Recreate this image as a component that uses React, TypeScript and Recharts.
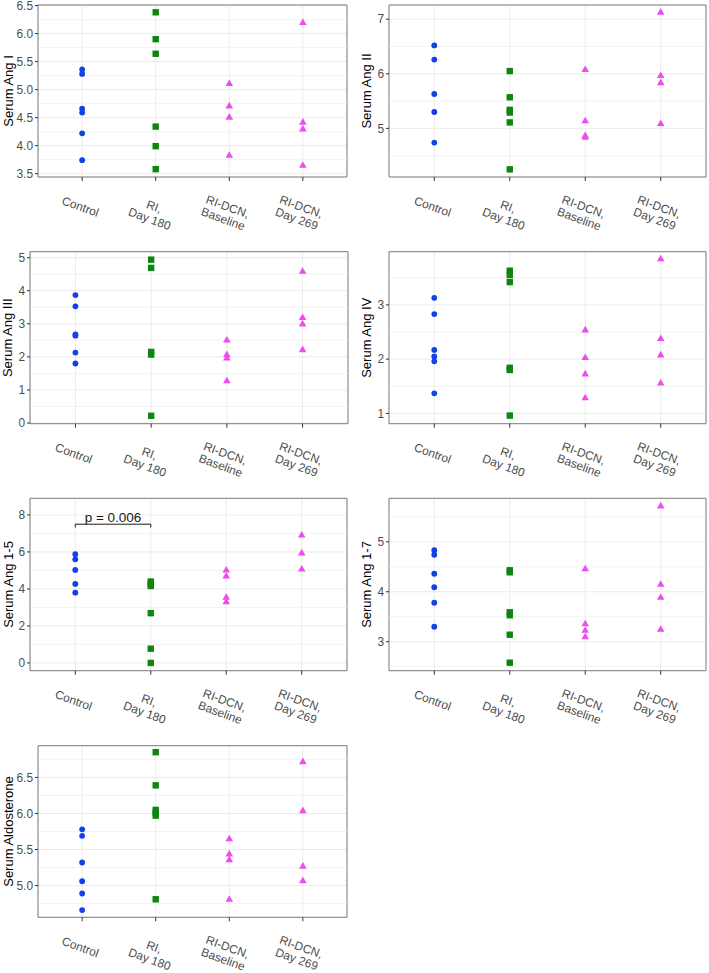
import {
  ScatterChart,
  Scatter,
  XAxis,
  YAxis,
  CartesianGrid,
  ReferenceLine,
  ReferenceArea,
} from "recharts";

// group order on the x axis
const groups = ["Control", "RI, Day 180", "RI-DCN, Baseline", "RI-DCN, Day 269"];
const groupLines = [["Control"], ["RI,", "Day 180"], ["RI-DCN,", "Baseline"], ["RI-DCN,", "Day 269"]];

// values per group: [control, RI day 180, RI-DCN baseline, RI-DCN day 269]
const angI = [
  [5.36, 5.28, 4.66, 4.59, 4.22, 3.74],
  [6.38, 5.9, 5.64, 4.34, 3.99, 3.58],
  [5.11, 4.71, 4.51, 3.83],
  [6.2, 4.42, 4.3, 3.65],
];
const angII = [
  [6.52, 6.26, 5.63, 5.3, 4.74],
  [6.05, 5.57, 5.34, 5.29, 5.11, 4.25],
  [6.08, 5.14, 4.87, 4.84],
  [7.13, 5.97, 5.84, 5.09],
];
const angIII = [
  [3.87, 3.53, 2.68, 2.64, 2.13, 1.8],
  [4.94, 4.69, 2.15, 2.07, 0.22],
  [2.51, 2.07, 1.97, 1.28],
  [4.59, 3.19, 3.0, 2.22],
];
const angIV = [
  [3.13, 2.83, 2.17, 2.05, 1.96, 1.37],
  [3.63, 3.55, 3.42, 1.84, 1.8, 0.96],
  [2.54, 2.03, 1.73, 1.29],
  [3.85, 2.38, 2.08, 1.56],
];
const ang15 = [
  [5.88, 5.6, 5.03, 4.27, 3.8],
  [4.4, 4.27, 4.16, 2.69, 0.77, 0.0],
  [5.03, 4.7, 3.55, 3.31],
  [6.92, 5.95, 5.08],
];
const ang17 = [
  [4.83, 4.74, 4.36, 4.09, 3.78, 3.3],
  [4.43, 4.39, 3.59, 3.53, 3.14, 2.58],
  [4.46, 3.36, 3.23, 3.1],
  [5.72, 4.15, 3.89, 3.25],
];
const aldo = [
  [5.78, 5.69, 5.32, 5.06, 4.89, 4.66],
  [6.85, 6.39, 6.05, 6.01, 5.97, 4.81],
  [5.65, 5.44, 5.36, 4.81],
  [6.72, 6.04, 5.27, 5.07],
];

// y ticks (major) and minor grid values
const angITicks = [3.5, 4, 4.5, 5, 5.5, 6, 6.5];
const angIMinor = [3.75, 4.25, 4.75, 5.25, 5.75, 6.25];
const angIITicks = [5, 6, 7];
const angIIMinor = [4.5, 5.5, 6.5];
const angIIITicks = [0, 1, 2, 3, 4, 5];
const angIIIMinor = [0.5, 1.5, 2.5, 3.5, 4.5];
const angIVTicks = [1, 2, 3];
const angIVMinor = [1.5, 2.5, 3.5];
const ang15Ticks = [0, 2, 4, 6, 8];
const ang15Minor = [1, 3, 5, 7];
const ang17Ticks = [3, 4, 5];
const ang17Minor = [2.5, 3.5, 4.5, 5.5];
const aldoTicks = [5, 5.5, 6, 6.5];
const aldoMinor = [4.75, 5.25, 5.75, 6.25, 6.75];

// Control vs RI comparison on the Ang 1-5 panel
const ang15Bracket = { from: 1, to: 2, y: 7.5, tip: 7.32, label: "p = 0.006" };

const COLORS = ["#1440E6", "#0E850E", "#EE4CEE", "#EE4CEE"];
const GRID = "#EBEBEB";
const MINOR = "#F0F0F0";
const BORDER = "#7F7F7F";
const TICK_TEXT = "#4D4D4D";
const X_DOMAIN: [number, number] = [0.4, 4.6];

const CircleMark = (p: any) => <circle cx={p.cx} cy={p.cy} r={2.9} fill={COLORS[0]} />;
const SquareMark = (p: any) => (
  <rect x={p.cx - 3.2} y={p.cy - 3.2} width={6.4} height={6.4} fill={COLORS[1]} />
);
const TriangleMark = (p: any) => (
  <polygon
    points={`${p.cx},${p.cy - 4} ${p.cx - 3.8},${p.cy + 2.6} ${p.cx + 3.8},${p.cy + 2.6}`}
    fill={COLORS[2]}
  />
);
const SHAPES = [CircleMark, SquareMark, TriangleMark, TriangleMark];

function CategoryTick({ x, y, payload }: any) {
  const lines = groupLines[Math.round(payload.value) - 1] || [];
  return (
    <g transform={`translate(${x},${y}) rotate(20)`}>
      {lines.map((line, i) => (
        <text key={i} x={0} y={9 + i * 13} textAnchor="middle" fontSize={11.9} fill={TICK_TEXT}>
          {line}
        </text>
      ))}
    </g>
  );
}

type Panel = {
  title: string;
  values: number[][];
  ticks: number[];
  minor: number[];
  domain: [number, number];
  decimals: number;
  bracket?: typeof ang15Bracket;
  // layout
  colX: number;
  colW: number;
  rowTop: number;
  plot: [number, number, number, number]; // left, top, right, bottom
  titleX: number;
};

const panels: Panel[] = [
  { title: "Serum Ang I", values: angI, ticks: angITicks, minor: angIMinor, domain: [3.44, 6.51], decimals: 1,
    colX: 0, colW: 354, rowTop: 0, plot: [38, 5, 347, 177], titleX: 12.5 },
  { title: "Serum Ang II", values: angII, ticks: angIITicks, minor: angIIMinor, domain: [4.11, 7.26], decimals: 0,
    colX: 354, colW: 355, rowTop: 0, plot: [389, 5, 706, 177], titleX: 17 },
  { title: "Serum Ang III", values: angIII, ticks: angIIITicks, minor: angIIIMinor, domain: [-0.02, 5.18], decimals: 0,
    colX: 0, colW: 354, rowTop: 246, plot: [30, 251.7, 348, 423.7], titleX: 12.5 },
  { title: "Serum Ang IV", values: angIV, ticks: angIVTicks, minor: angIVMinor, domain: [0.81, 3.98], decimals: 0,
    colX: 354, colW: 355, rowTop: 246, plot: [389, 251.7, 706, 423.7], titleX: 17 },
  { title: "Serum Ang 1-5", values: ang15, ticks: ang15Ticks, minor: ang15Minor, domain: [-0.42, 8.9], decimals: 0,
    bracket: ang15Bracket,
    colX: 0, colW: 354, rowTop: 492, plot: [30, 498.3, 347, 670.7], titleX: 12.5 },
  { title: "Serum Ang 1-7", values: ang17, ticks: ang17Ticks, minor: ang17Minor, domain: [2.42, 5.87], decimals: 0,
    colX: 354, colW: 355, rowTop: 492, plot: [389, 498.3, 706, 670.7], titleX: 17 },
  { title: "Serum Aldosterone", values: aldo, ticks: aldoTicks, minor: aldoMinor, domain: [4.56, 6.94], decimals: 1,
    colX: 0, colW: 354, rowTop: 738, plot: [38, 745.7, 347, 917.3], titleX: 12.5 },
];

const CHART_H = 240;
const X_AXIS_H = 55;

function PanelChart({ panel }: { panel: Panel }) {
  const [pl, pt, pr, pb] = panel.plot;
  const margin = {
    top: pt - panel.rowTop,
    right: panel.colX + panel.colW - pr,
    bottom: panel.rowTop + CHART_H - pb - X_AXIS_H,
    left: 0,
  };
  const b = panel.bracket;
  return (
    <div style={{ position: "absolute", left: panel.colX, top: panel.rowTop }}>
      <ScatterChart width={panel.colW} height={CHART_H} margin={margin}>
        <CartesianGrid stroke={GRID} strokeWidth={1} />
        {panel.minor.map((v) => (
          <ReferenceLine key={v} y={v} stroke={MINOR} strokeWidth={0.8} />
        ))}
        <XAxis
          type="number"
          dataKey="x"
          domain={X_DOMAIN}
          ticks={[1, 2, 3, 4]}
          allowDataOverflow
          interval={0}
          height={X_AXIS_H}
          axisLine={false}
          tickSize={4}
          tickMargin={21}
          tickLine={{ stroke: "#333333" }}
          tick={<CategoryTick />}
        />
        <YAxis
          type="number"
          dataKey="y"
          domain={panel.domain}
          ticks={panel.ticks}
          allowDataOverflow
          interval={0}
          width={pl - panel.colX}
          axisLine={false}
          tickSize={3}
          tickMargin={2}
          tickLine={{ stroke: "#333333" }}
          tick={{ fill: TICK_TEXT, fontSize: 11.9 }}
          tickFormatter={(v: number) => v.toFixed(panel.decimals)}
          label={{
            content: (p: any) => {
              const vb = p.viewBox || { x: 0, y: margin.top, height: pb - pt };
              const cx = panel.titleX;
              const cy = vb.y + vb.height / 2;
              return (
                <text
                  x={cx}
                  y={cy}
                  transform={`rotate(-90 ${cx} ${cy})`}
                  textAnchor="middle"
                  fontSize={13}
                  fill="#000000"
                >
                  {panel.title}
                </text>
              );
            },
          }}
        />
        <ReferenceArea
          x1={X_DOMAIN[0]}
          x2={X_DOMAIN[1]}
          y1={panel.domain[0]}
          y2={panel.domain[1]}
          fill="none"
          stroke={BORDER}
          strokeWidth={1}
        />
        {b && (
          <ReferenceLine
            segment={[{ x: b.from, y: b.y }, { x: b.to, y: b.y }]}
            stroke="#1A1A1A"
            strokeWidth={1}
            label={{ value: b.label, position: "top", offset: 2, fontSize: 13.5, fill: "#1A1A1A" }}
          />
        )}
        {b && (
          <ReferenceLine segment={[{ x: b.from, y: b.y }, { x: b.from, y: b.tip }]} stroke="#1A1A1A" strokeWidth={1} />
        )}
        {b && (
          <ReferenceLine segment={[{ x: b.to, y: b.y }, { x: b.to, y: b.tip }]} stroke="#1A1A1A" strokeWidth={1} />
        )}
        {panel.values.map((vals, gi) => (
          <Scatter
            key={groups[gi]}
            name={groups[gi]}
            data={vals.map((v) => ({ x: gi + 1, y: v }))}
            shape={SHAPES[gi]}
            isAnimationActive={false}
          />
        ))}
      </ScatterChart>
    </div>
  );
}

export default function App() {
  return (
    <div
      style={{
        position: "absolute",
        left: 0,
        top: 0,
        width: 709,
        height: 973,
        background: "#ffffff",
        fontFamily: "'Liberation Sans', Arial, sans-serif",
      }}
    >
      {panels.map((p) => (
        <PanelChart key={p.title} panel={p} />
      ))}
    </div>
  );
}
